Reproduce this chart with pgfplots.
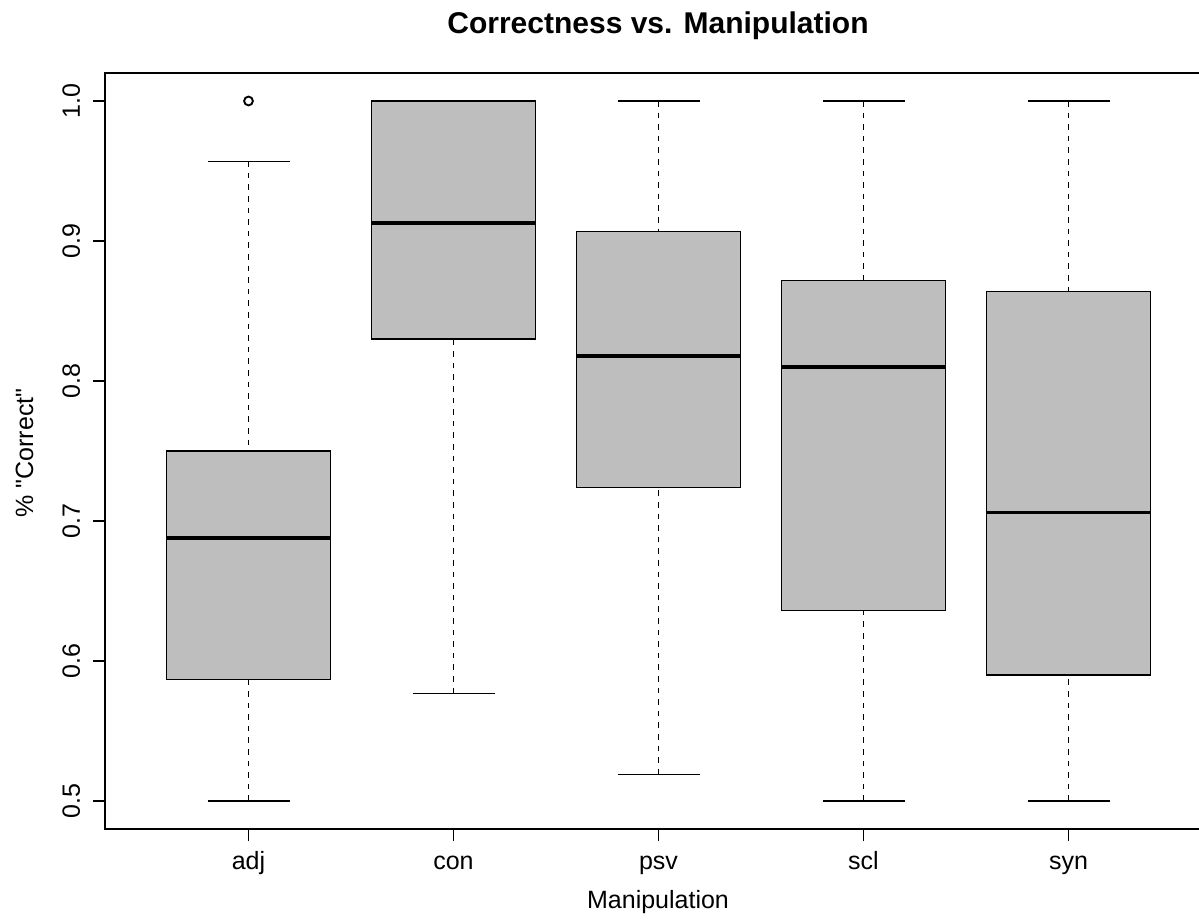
\documentclass[border=0pt]{standalone}
\usepackage{pgfplots}
\pgfplotsset{compat=1.18}
\usepgfplotslibrary{statistics}
\usepackage{fontspec}
\setmainfont{Liberation Sans}
\font\qtfont="Liberation Sans" at 12.5bp
\definecolor{boxgray}{RGB}{190,190,190}
\begin{document}
\begin{tikzpicture}
\useasboundingbox (-52.5bp,-45.5bp) rectangle (547bp,414.5bp);
\clip (-52.5bp,-45.5bp) rectangle (547bp,414.5bp);
\begin{axis}[
  at={(0,0)}, anchor=south west,
  scale only axis, width=553.5bp, height=378bp,
  xmin=0.3, xmax=5.7, ymin=0.48, ymax=1.02,
  xtick={1,2,3,4,5}, xticklabels={adj,con,psv,scl,syn},
  ytick={0.5,0.6,0.7,0.8,0.9,1.0},
  /pgf/number format/fixed,
  /pgf/number format/fixed zerofill,
  /pgf/number format/precision=1,
  /pgf/number format/assume math mode=true,
  tick align=outside, major tick length=6bp,
  xtick pos=left, ytick pos=left,
  axis line style={line width=0.6bp},
  tick style={line width=0.6bp, black},
  tick label style={font=\fontsize{12.5bp}{14bp}\selectfont, inner sep=0pt},
  xticklabel style={anchor=base},
  yticklabel style={rotate=90, anchor=base},
  xticklabel shift=14.5bp,
  yticklabel shift=6.5bp,
  boxplot/draw direction=y,
  boxplot/box extend=0.8,
  boxplot/whisker extend=0.4,
  boxplot/draw/lower whisker/.code={
    \draw[line width=0.6bp, dash pattern=on 2.8bp off 3bp]
      (boxplot cs:\pgfplotsboxplotvalue{lower whisker}) -- (boxplot cs:\pgfplotsboxplotvalue{lower quartile});
    \draw[line width=0.6bp, solid]
      (boxplot whisker cs:\pgfplotsboxplotvalue{lower whisker},0) -- (boxplot whisker cs:\pgfplotsboxplotvalue{lower whisker},1);
  },
  boxplot/draw/upper whisker/.code={
    \draw[line width=0.6bp, dash pattern=on 2.8bp off 3bp]
      (boxplot cs:\pgfplotsboxplotvalue{upper whisker}) -- (boxplot cs:\pgfplotsboxplotvalue{upper quartile});
    \draw[line width=0.6bp, solid]
      (boxplot whisker cs:\pgfplotsboxplotvalue{upper whisker},0) -- (boxplot whisker cs:\pgfplotsboxplotvalue{upper whisker},1);
  },
  boxplot/draw/median/.code={
    \draw[line width=1.8bp, solid]
      (boxplot box cs:\pgfplotsboxplotvalue{median},0) -- (boxplot box cs:\pgfplotsboxplotvalue{median},1);
  },
  boxplot/every box/.style={draw=black, fill=boxgray, line width=0.6bp},
]
\addplot[black, mark=o, mark size=2.2bp, mark options={fill=none, solid, line width=0.95bp},
  boxplot prepared={draw position=1, lower whisker=0.5, lower quartile=0.587,
    median=0.688, upper quartile=0.75, upper whisker=0.957}]
  coordinates {(0,1.0)};
\addplot[black, mark=o,
  boxplot prepared={draw position=2, lower whisker=0.577, lower quartile=0.83,
    median=0.913, upper quartile=1.0, upper whisker=1.0}]
  coordinates {};
\addplot[black, mark=o,
  boxplot prepared={draw position=3, lower whisker=0.519, lower quartile=0.724,
    median=0.818, upper quartile=0.907, upper whisker=1.0}]
  coordinates {};
\addplot[black, mark=o,
  boxplot prepared={draw position=4, lower whisker=0.5, lower quartile=0.636,
    median=0.81, upper quartile=0.872, upper whisker=1.0}]
  coordinates {};
\addplot[black, mark=o,
  boxplot prepared={draw position=5, lower whisker=0.5, lower quartile=0.59,
    median=0.706, upper quartile=0.864, upper whisker=1.0}]
  coordinates {};
\end{axis}
\node[anchor=base, font=\fontsize{15bp}{17bp}\selectfont\bfseries] at (276.5bp,397.5bp) {Correctness vs. Manipulation};
\node[anchor=base, font=\fontsize{12.5bp}{14bp}\selectfont] at (276.5bp,-39.5bp) {Manipulation};
\node[anchor=base, rotate=90, font=\fontsize{12.5bp}{14bp}\selectfont] at (-36bp,188bp) {\% {\qtfont\char34}Correct{\qtfont\char34}};
\end{tikzpicture}
\end{document}
